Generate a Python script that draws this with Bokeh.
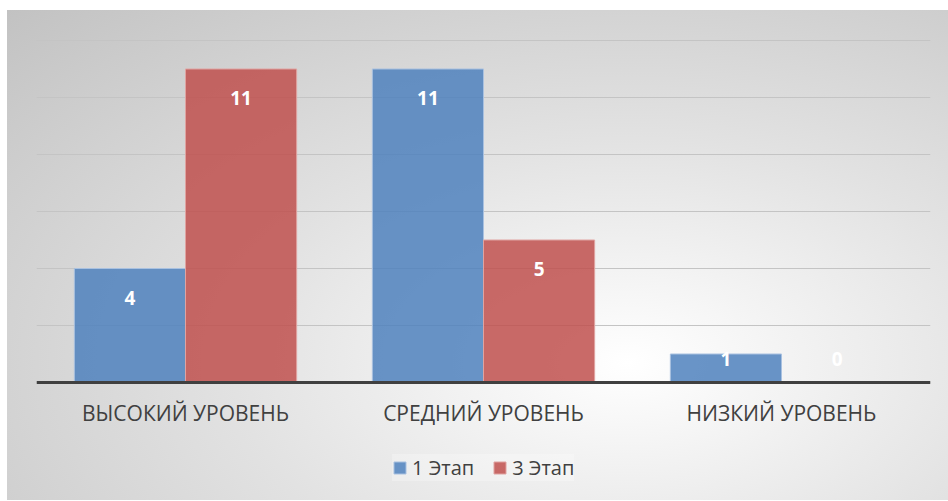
from bokeh.plotting import figure
from bokeh.models import ColumnDataSource, Legend, LegendItem, FactorRange
from bokeh.transform import dodge
from bokeh.core.properties import value
from bokeh.embed import file_html
from bokeh.resources import INLINE

categories = ["ВЫСОКИЙ УРОВЕНЬ", "СРЕДНИЙ УРОВЕНЬ", "НИЗКИЙ УРОВЕНЬ"]
series_names = ["1 Этап", "3 Этап"]
stage1 = [4, 11, 1]
stage3 = [11, 5, 0]
y_ticks = [0, 2, 4, 6, 8, 10, 12]

FONT = "Open Sans"
BLUE = "#4f81bd"
RED = "#c0504d"

def label_pos(vals):
    return [v - 1.03 if v - 1.03 > 0.84 else 0.84 for v in vals]

src = ColumnDataSource(dict(
    cat=categories,
    s1=stage1, s3=stage3,
    s1_txt=[str(v) for v in stage1], s3_txt=[str(v) for v in stage3],
    s1_y=label_pos(stage1), s3_y=label_pos(stage3),
))

p = figure(x_range=FactorRange(*categories, range_padding=0), y_range=(-4.175, 12.035),
           width=948, height=501, output_backend="svg", toolbar_location=None,
           min_border_left=36, min_border_right=18, min_border_top=39, min_border_bottom=0)
p.styles = {"background": "radial-gradient(ellipse farthest-corner at 66% 72%, #ffffff 0%, #e2e2e2 45%, #c2c2c2 100%) 7px 10px / 941px 490px no-repeat, #ffffff"}
p.background_fill_color = None
p.border_fill_color = None
p.outline_line_color = None

bw = 0.373
r1 = p.vbar(x=dodge("cat", -bw / 2, range=p.x_range), top="s1", width=bw, source=src,
            fill_color=BLUE, fill_alpha=0.85, line_color="#a9c1e0", line_width=1)
r3 = p.vbar(x=dodge("cat", bw / 2, range=p.x_range), top="s3", width=bw, source=src,
            fill_color=RED, fill_alpha=0.85, line_color="#e0a3a1", line_width=1)

p.text(x=dodge("cat", -bw / 2, range=p.x_range), y="s1_y", text="s1_txt", source=src,
       text_color="white", text_font=value(FONT), text_font_style="bold",
       text_font_size="19px", text_align="center", text_baseline="middle")
p.text(x=dodge("cat", bw / 2, range=p.x_range), y="s3_y", text="s3_txt", source=src,
       text_color="white", text_font=value(FONT), text_font_style="bold",
       text_font_size="19px", text_align="center", text_baseline="middle")

p.yaxis.visible = False
p.yaxis.ticker = y_ticks
p.ygrid.ticker = y_ticks
p.ygrid.grid_line_color = "#c4c4c4"
p.ygrid.grid_line_width = 1
p.xgrid.visible = False

p.xaxis.fixed_location = 0
p.xaxis.axis_line_color = "#404040"
p.xaxis.axis_line_width = 3
p.xaxis.major_tick_line_color = None
p.xaxis.minor_tick_line_color = None
p.xaxis.major_label_text_font = FONT
p.xaxis.major_label_text_font_size = "21px"
p.xaxis.major_label_text_color = "#404040"
p.xaxis.major_label_standoff = 10

legend = Legend(items=[LegendItem(label=series_names[0], renderers=[r1]),
                       LegendItem(label=series_names[1], renderers=[r3])],
                orientation="horizontal", location=(356, 20),
                background_fill_color="#ffffff", background_fill_alpha=0.25,
                border_line_color=None,
                label_text_font=FONT, label_text_font_size="20px", label_text_color="#404040",
                glyph_width=15, glyph_height=15, spacing=18, padding=8, label_standoff=5)
p.add_layout(legend)

open("out.html", "w").write(file_html(p, INLINE))
